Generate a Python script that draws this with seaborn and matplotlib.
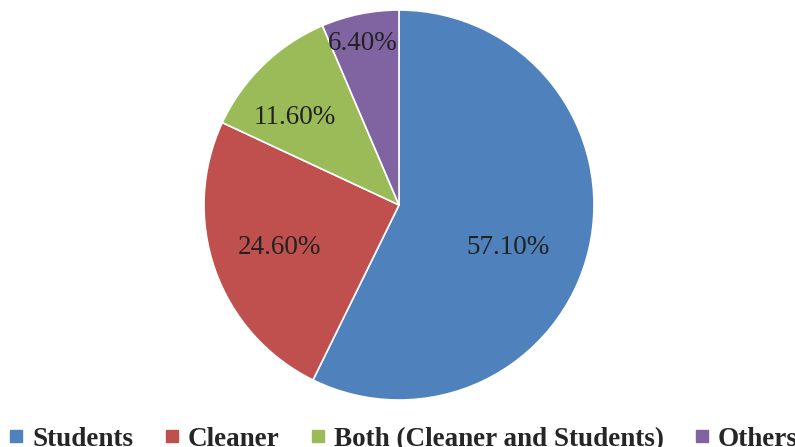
import numpy as np
import matplotlib
matplotlib.use("Agg")
import matplotlib.pyplot as plt
import seaborn as sns
from matplotlib.lines import Line2D

categories = ["Students", "Cleaner", "Both (Cleaner and Students)", "Others"]
shares = [57.1, 24.6, 11.6, 6.4]
pct_labels = ["57.10%", "24.60%", "11.60%", "6.40%"]

sns.set_style("white")
plt.rcParams["font.family"] = ["Liberation Serif", "DejaVu Serif"]

colors = ["#4F81BD", "#C0504D", "#9BBB59", "#8064A2"]
# where each label sits inside its slice (radius fraction, angle shift in degrees)
label_r = [0.60, 0.65, 0.70, 0.85]
label_shift = [-8, 0, 6, 1]

fig = plt.figure(figsize=(7.95, 4.47), dpi=100)
ax = fig.add_axes([204 / 795, 47 / 447, 390 / 795, 390 / 447])

wedges, _ = ax.pie(shares, colors=colors, startangle=90, counterclock=False,
                   radius=1, wedgeprops=dict(edgecolor="white", linewidth=1.2))

for w, lab, r, sh in zip(wedges, pct_labels, label_r, label_shift):
    mid = np.deg2rad((w.theta1 + w.theta2) / 2 + sh)
    ax.text(r * np.cos(mid), r * np.sin(mid), lab, ha="center", va="center",
            fontsize=19.5, color="#222222")

ax.set_xlim(-1, 1)
ax.set_ylim(-1, 1)
ax.set_aspect("equal")
ax.axis("off")

handles = [Line2D([], [], marker="s", linestyle="none", markersize=9,
                  markerfacecolor=c, markeredgecolor=c) for c in colors]
fig.legend(handles, categories, loc="center", bbox_to_anchor=(0.508, 0.017),
           ncol=4, frameon=False, handlelength=0.5, handletextpad=0.35,
           columnspacing=1.15, prop=dict(weight="bold", size=19.5))

fig.savefig("out.png", dpi=100)
